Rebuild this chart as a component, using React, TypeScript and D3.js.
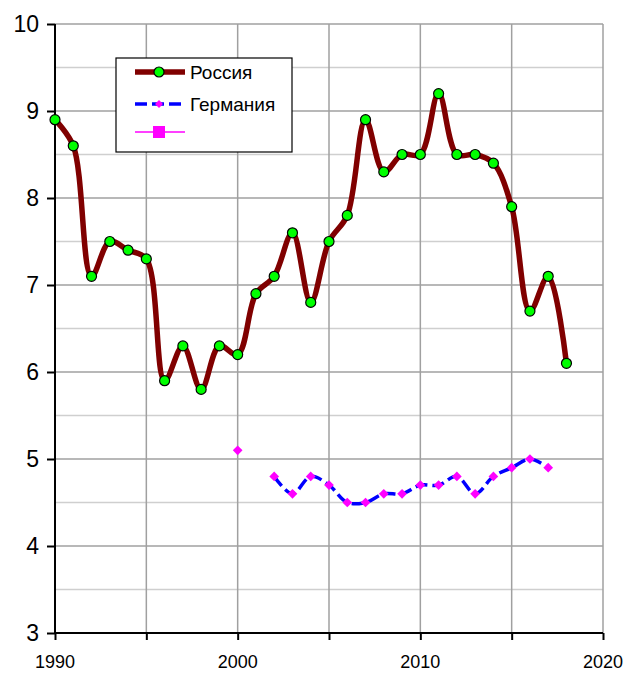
import React, { useEffect, useRef } from "react";
import * as d3 from "d3";

const years = d3.range(1990, 2019);
const russia = [
  8.9, 8.6, 7.1, 7.5, 7.4, 7.3, 5.9, 6.3, 5.8, 6.3, 6.2, 6.9, 7.1, 7.6, 6.8,
  7.5, 7.8, 8.9, 8.3, 8.5, 8.5, 9.2, 8.5, 8.5, 8.4, 7.9, 6.7, 7.1, 6.1,
];
// null = no value that year
const germany = [
  null, null, null, null, null, null, null, null, null, null, 5.1, null, 4.8,
  4.6, 4.8, 4.7, 4.5, 4.5, 4.6, 4.6, 4.7, 4.7, 4.8, 4.6, 4.8, 4.9, 5.0, 4.9,
  null,
];
const xTicks = [1990, 1995, 2000, 2005, 2010, 2015, 2020];
const xLabels = [1990, 2000, 2010, 2020];
const yTicks = [3, 4, 5, 6, 7, 8, 9, 10];
const seriesNames = ["Россия", "Германия", ""];

const width = 627;
const height = 673;

export default function App() {
  const chartRef = useRef(null);

  useEffect(() => {
    document.body.style.margin = "0";
    const svg = d3.select(chartRef.current);
    const margin = { top: 24, right: 24, bottom: 40, left: 55 };
    const font = "Liberation Sans, Arial, sans-serif";

    const x = d3
      .scaleLinear()
      .domain([1990, 2020])
      .range([margin.left, width - margin.right]);
    const y = d3
      .scaleLinear()
      .domain([3, 10])
      .range([height - margin.bottom, margin.top]);

    // minor grid
    const grid = svg.append("g");
    grid
      .selectAll("line.minor")
      .data(d3.range(3.5, 10, 1))
      .join("line")
      .attr("x1", x(1990))
      .attr("x2", x(2020))
      .attr("y1", d => y(d))
      .attr("y2", d => y(d))
      .attr("stroke", "#cfcfcf")
      .attr("stroke-width", 1.5);
    grid
      .selectAll("line.major")
      .data(yTicks.slice(1))
      .join("line")
      .attr("x1", x(1990))
      .attr("x2", x(2020))
      .attr("y1", d => y(d))
      .attr("y2", d => y(d))
      .attr("stroke", "#a0a0a0")
      .attr("stroke-width", 1.5);
    grid
      .append("g")
      .selectAll("line")
      .data(xTicks.slice(1))
      .join("line")
      .attr("x1", d => x(d))
      .attr("x2", d => x(d))
      .attr("y1", y(10))
      .attr("y2", y(3))
      .attr("stroke", "#a0a0a0")
      .attr("stroke-width", 1.5);

    // axes
    svg
      .append("g")
      .attr("transform", `translate(0,${y(3)})`)
      .call(d3.axisBottom(x).tickValues(xTicks).tickSize(7).tickFormat(""))
      .call(g => g.select(".domain").attr("stroke-width", 2).attr("d", `M${x(1990)},0H${x(2020)}`))
      .call(g => g.selectAll(".tick line").attr("stroke-width", 2));
    svg
      .append("g")
      .selectAll("text")
      .data(xLabels)
      .join("text")
      .attr("x", d => x(d))
      .attr("y", y(3) + 35)
      .attr("text-anchor", "middle")
      .attr("font-family", font)
      .attr("font-size", 18)
      .attr("textLength", 40)
      .attr("lengthAdjust", "spacingAndGlyphs")
      .text(d => d);

    svg
      .append("g")
      .attr("transform", `translate(${x(1990)},0)`)
      .call(
        d3
          .axisLeft(y)
          .tickValues(yTicks)
          .tickFormat(d3.format("d"))
          .tickSize(8)
          .tickPadding(8)
      )
      .call(g => g.select(".domain").attr("stroke-width", 2).attr("d", `M0,${y(3)}V${y(10)}`))
      .call(g => g.selectAll(".tick line").attr("stroke-width", 2))
      .call(g =>
        g
          .selectAll(".tick text")
          .attr("font-family", font)
          .attr("font-size", 23)
          .attr("fill", "#000")
      );

    const line = d3
      .line()
      .defined(d => d[1] != null)
      .x(d => x(d[0]))
      .y(d => y(d[1]))
      .curve(d3.curveCatmullRom.alpha(0.5));

    const ruData = years.map((yr, i) => [yr, russia[i]]);
    const deData = years.map((yr, i) => [yr, germany[i]]);

    svg
      .append("path")
      .datum(ruData)
      .attr("fill", "none")
      .attr("stroke", "#800000")
      .attr("stroke-width", 5.5)
      .attr("stroke-linejoin", "round")
      .attr("d", line);

    svg
      .append("g")
      .selectAll("circle")
      .data(ruData)
      .join("circle")
      .attr("cx", d => x(d[0]))
      .attr("cy", d => y(d[1]))
      .attr("r", 5)
      .attr("fill", "#00ff00")
      .attr("stroke", "#000")
      .attr("stroke-width", 1.2);

    svg
      .append("path")
      .datum(deData)
      .attr("fill", "none")
      .attr("stroke", "#0000ff")
      .attr("stroke-width", 3.5)
      .attr("stroke-dasharray", "12,5")
      .attr("d", line);

    const diamond = d3.symbol().type(d3.symbolDiamond2).size(60);
    svg
      .append("g")
      .selectAll("path")
      .data(deData.filter(d => d[1] != null))
      .join("path")
      .attr("transform", d => `translate(${x(d[0])},${y(d[1])})`)
      .attr("d", diamond)
      .attr("fill", "#ff00ff");

    // legend
    const lg = svg.append("g").attr("transform", "translate(116,58)");
    lg.append("rect")
      .attr("width", 176)
      .attr("height", 94)
      .attr("fill", "#fff")
      .attr("stroke", "#000")
      .attr("stroke-width", 1.2);
    const rows = lg
      .selectAll("g")
      .data(seriesNames)
      .join("g")
      .attr("transform", (d, i) => `translate(0,${[14, 46, 74][i]})`);
    rows
      .append("line")
      .attr("x1", 19)
      .attr("x2", 69)
      .attr("stroke", (d, i) => ["#800000", "#0000ff", "#ff00ff"][i])
      .attr("stroke-width", (d, i) => [5.5, 3.5, 1.5][i])
      .attr("stroke-dasharray", (d, i) => (i === 1 ? "12,5" : null));
    rows
      .filter((d, i) => i === 0)
      .append("circle")
      .attr("cx", 43)
      .attr("r", 5)
      .attr("fill", "#00ff00")
      .attr("stroke", "#000")
      .attr("stroke-width", 1.2);
    rows
      .filter((d, i) => i === 1)
      .append("path")
      .attr("transform", "translate(43,0)")
      .attr("d", d3.symbol().type(d3.symbolDiamond2).size(40))
      .attr("fill", "#ff00ff");
    rows
      .filter((d, i) => i === 2)
      .append("rect")
      .attr("x", 37)
      .attr("y", -6)
      .attr("width", 12)
      .attr("height", 12)
      .attr("fill", "#ff00ff");
    rows
      .append("text")
      .attr("x", 74)
      .attr("dy", "0.35em")
      .attr("font-family", font)
      .attr("font-size", 19)
      .text(d => d);

    return () => {
      svg.html("");
    };
  }, [chartRef]);

  return <svg ref={chartRef} width={width} height={height} style={{ display: "block" }} />;
}
